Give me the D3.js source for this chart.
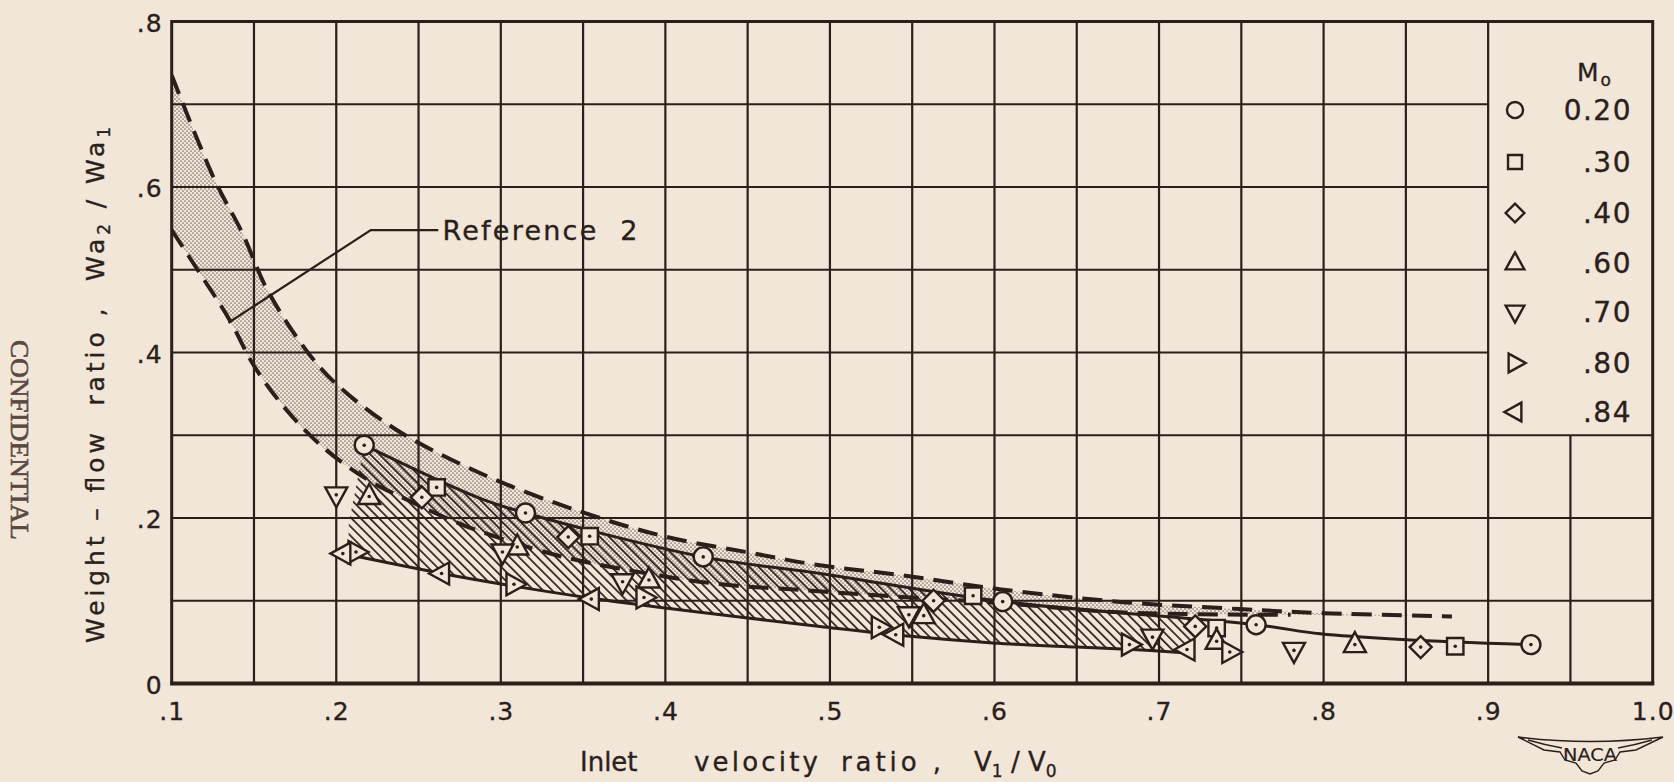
<!DOCTYPE html>
<html>
<head>
<meta charset="utf-8">
<script src="https://cdn.jsdelivr.net/npm/d3@7"></script>
<style>
  html, body { margin: 0; padding: 0; background: #f2e6d9; }
  svg { display: block; }
  text { fill: #2b1f1b; stroke: #2b1f1b; stroke-width: 0.35px; }
  .sans { font-family: "DejaVu Sans", "Noto Sans", sans-serif; }
  .stamp { font-family: "Liberation Serif", "DejaVu Serif", serif; }
</style>
</head>
<body>
<svg id="chart" width="1674" height="782"></svg>
<script>
// ---- axis ticks ----
const xTickValues = [0.1, 0.2, 0.3, 0.4, 0.5, 0.6, 0.7, 0.8, 0.9, 1.0];
const xTickLabels = [".1", ".2", ".3", ".4", ".5", ".6", ".7", ".8", ".9", "1.0"];
const yTickValues = [0, 0.2, 0.4, 0.6, 0.8];
const yTickLabels = ["0", ".2", ".4", ".6", ".8"];

// ---- free-stream Mach number series ----
const machNumbers = ["0.20", ".30", ".40", ".60", ".70", ".80", ".84"];
const machSymbols = ["circle", "square", "diamond", "up", "down", "right", "left"];

// [inlet velocity ratio V1/V0, weight-flow ratio Wa2/Wa1]
const mach020 = [[0.217, 0.288], [0.315, 0.206], [0.423, 0.153], [0.605, 0.099], [0.759, 0.071], [0.926, 0.047]];
const mach030 = [[0.261, 0.237], [0.354, 0.178], [0.587, 0.106], [0.735, 0.067], [0.880, 0.045]];
const mach040 = [[0.252, 0.225], [0.341, 0.177], [0.563, 0.100], [0.722, 0.069], [0.859, 0.044]];
const mach060 = [[0.220, 0.226], [0.310, 0.165], [0.390, 0.125], [0.557, 0.082], [0.735, 0.051], [0.819, 0.047]];
const mach070 = [[0.200, 0.228], [0.301, 0.159], [0.374, 0.123], [0.548, 0.083], [0.696, 0.056], [0.782, 0.040]];
const mach080 = [[0.212, 0.159], [0.308, 0.120], [0.387, 0.104], [0.530, 0.068], [0.682, 0.047], [0.743, 0.038]];
const mach084 = [[0.204, 0.157], [0.264, 0.133], [0.355, 0.102], [0.540, 0.059], [0.717, 0.041]];
const machSeries = [mach020, mach030, mach040, mach060, mach070, mach080, mach084];

// ---- Reference 2 band (dashed bounds) ----
const refUpper = [[0.100, 0.735], [0.126, 0.609], [0.143, 0.544], [0.158, 0.476], [0.182, 0.402],
                  [0.200, 0.362], [0.237, 0.306], [0.290, 0.252], [0.348, 0.208], [0.401, 0.177],
                  [0.449, 0.159], [0.490, 0.144], [0.543, 0.131], [0.603, 0.114], [0.680, 0.098],
                  [0.749, 0.090], [0.800, 0.085], [0.878, 0.081]];
const refLower = [[0.100, 0.548], [0.117, 0.496], [0.135, 0.440], [0.150, 0.384], [0.170, 0.330],
                  [0.194, 0.282], [0.221, 0.244], [0.241, 0.224], [0.279, 0.190], [0.334, 0.155],
                  [0.372, 0.139], [0.429, 0.121], [0.482, 0.113], [0.549, 0.104], [0.605, 0.097],
                  [0.676, 0.086], [0.780, 0.083]];

// ---- faired bounds of present data ----
const fairTop = [[0.217, 0.288], [0.287, 0.224], [0.315, 0.206], [0.423, 0.153], [0.494, 0.133],
                 [0.605, 0.099], [0.759, 0.071], [0.798, 0.060], [0.850, 0.053], [0.926, 0.047]];
const fairBottom = [[0.204, 0.157], [0.264, 0.133], [0.307, 0.118], [0.352, 0.104], [0.401, 0.091],
                    [0.494, 0.069], [0.549, 0.057], [0.599, 0.049], [0.650, 0.044], [0.684, 0.041],
                    [0.717, 0.037]];
const hatchSpan = [0.2075, 0.72];

// ---- Reference 2 callout ----
const calloutLeader = [[0.1345, 0.436], [0.221, 0.548], [0.262, 0.548]];
const calloutText = "Reference  2";

const INK = "#2b1f1b";
const PAPER = "#f2e6d9";

const svg = d3.select("#chart");
const x = d3.scaleLinear().domain([0.1, 1.0]).range([171.7, 1652.7]);
const y = d3.scaleLinear().domain([0, 0.8]).range([683.5, 21.5]);

const defs = svg.append("defs");
// stipple for the Reference 2 band
const dots = defs.append("pattern").attr("id", "stipple").attr("patternUnits", "userSpaceOnUse")
  .attr("width", 4).attr("height", 4);
dots.append("circle").attr("cx", 1).attr("cy", 1).attr("r", 0.85).attr("fill", INK);
dots.append("circle").attr("cx", 3).attr("cy", 3).attr("r", 0.85).attr("fill", INK);
// diagonal hatching for present data
const hatch = defs.append("pattern").attr("id", "hatch").attr("patternUnits", "userSpaceOnUse")
  .attr("width", 6.5).attr("height", 6.5).attr("patternTransform", "rotate(45)");
hatch.append("line").attr("x1", 0).attr("y1", 1).attr("x2", 6.5).attr("y2", 1)
  .attr("stroke", INK).attr("stroke-width", 1.7);

defs.append("clipPath").attr("id", "plotClip").append("rect")
  .attr("x", x(0.1)).attr("y", y(0.8)).attr("width", x(1.0) - x(0.1)).attr("height", y(0) - y(0.8));
defs.append("clipPath").attr("id", "hatchClip").append("rect")
  .attr("x", x(hatchSpan[0])).attr("y", y(0.8)).attr("width", x(hatchSpan[1]) - x(hatchSpan[0]))
  .attr("height", y(0) - y(0.8));

// ---- grid ----
const grid = svg.append("g").attr("stroke", INK).attr("stroke-width", 2.2).attr("fill", "none");
d3.range(0.15, 0.96, 0.05).forEach(v => {
  const top = v > 0.925 ? 0.3 : 0.8;
  grid.append("line").attr("x1", x(v)).attr("x2", x(v)).attr("y1", y(0)).attr("y2", y(top));
});
d3.range(0.1, 0.75, 0.1).forEach(v => {
  const right = v > 0.35 ? 0.9 : 1.0;
  grid.append("line").attr("x1", x(0.1)).attr("x2", x(right)).attr("y1", y(v)).attr("y2", y(v));
});
// frame
svg.append("rect").attr("x", x(0.1)).attr("y", y(0.8)).attr("width", x(1.0) - x(0.1))
  .attr("height", y(0) - y(0.8)).attr("fill", "none").attr("stroke", INK).attr("stroke-width", 3);
svg.append("line").attr("x1", x(0.1) - 1.5).attr("x2", x(1.0) + 1.5).attr("y1", y(0)).attr("y2", y(0))
  .attr("stroke", INK).attr("stroke-width", 4.2);

// ---- shaded bands ----
const curve = d3.line().x(d => x(d[0])).y(d => y(d[1])).curve(d3.curveCatmullRom.alpha(0.5));
function band(upper, lower) {
  const a = curve(upper);
  const b = curve(lower.slice().reverse());
  return a + "L" + b.slice(1) + "Z";
}
const shade = svg.append("g").attr("clip-path", "url(#plotClip)");
shade.append("path").attr("d", band(refUpper, refLower)).attr("fill", "url(#stipple)").attr("opacity", 0.6);
shade.append("g").attr("clip-path", "url(#hatchClip)")
  .append("path").attr("d", band(fairTop, fairBottom)).attr("fill", "url(#hatch)");

// ---- curves ----
const lines = svg.append("g").attr("clip-path", "url(#plotClip)").attr("fill", "none").attr("stroke", INK);
lines.append("path").attr("d", curve(refUpper)).attr("stroke-width", 4).attr("stroke-dasharray", "20 10");
lines.append("path").attr("d", curve(refLower)).attr("stroke-width", 4).attr("stroke-dasharray", "20 10");
lines.append("path").attr("d", curve(fairTop)).attr("stroke-width", 3);
lines.append("path").attr("d", curve(fairBottom)).attr("stroke-width", 3);

// ---- callout ----
svg.append("path").attr("d", d3.line().x(d => x(d[0])).y(d => y(d[1]))(calloutLeader))
  .attr("fill", "none").attr("stroke", INK).attr("stroke-width", 2.2);
svg.append("text").attr("class", "sans").attr("x", x(0.2645)).attr("y", y(calloutLeader[2][1]) + 10)
  .attr("font-size", 27).attr("textLength", 195).attr("lengthAdjust", "spacing")
  .style("white-space", "pre").text(calloutText);

// ---- markers ----
function symbolPath(kind, s) {
  const r = 9.5 * s, q = 8.2 * s, d = 11 * s, a = 12.5 * s, b = 11 * s, c = 7.5 * s;
  switch (kind) {
    case "circle": return `M${-r},0A${r},${r} 0 1,0 ${r},0A${r},${r} 0 1,0 ${-r},0Z`;
    case "square": return `M${-q},${-q}H${q}V${q}H${-q}Z`;
    case "diamond": return `M0,${-d}L${d},0L0,${d}L${-d},0Z`;
    case "up": return `M0,${-a}L${b},${c}L${-b},${c}Z`;
    case "down": return `M0,${a}L${b},${-c}L${-b},${-c}Z`;
    case "right": return `M${a},0L${-c},${-b}L${-c},${b}Z`;
    case "left": return `M${-a},0L${c},${-b}L${c},${b}Z`;
  }
}
machSeries.forEach((series, i) => {
  const g = svg.append("g");
  const m = g.selectAll("g").data(series).join("g")
    .attr("transform", d => `translate(${x(d[0])},${y(d[1])})`);
  m.append("path").attr("d", symbolPath(machSymbols[i], 1))
    .attr("fill", PAPER).attr("stroke", INK).attr("stroke-width", 2.4);
  m.append("circle").attr("r", 1.8).attr("fill", INK);
});

// ---- axes (labels only; the grid carries the ticks) ----
const xAxis = svg.append("g").attr("transform", `translate(0,${y(0)})`)
  .call(d3.axisBottom(x).tickValues(xTickValues).tickFormat((d, i) => xTickLabels[i]).tickSize(0).tickPadding(19));
const yAxis = svg.append("g").attr("transform", `translate(${x(0.1)},0)`)
  .call(d3.axisLeft(y).tickValues(yTickValues).tickFormat((d, i) => yTickLabels[i]).tickSize(0).tickPadding(9));
[xAxis, yAxis].forEach(a => {
  a.select(".domain").remove();
  a.selectAll("text").attr("class", "sans").attr("font-size", 25)
    .attr("fill", INK).style("letter-spacing", "1px");
});
yAxis.selectAll("text").attr("dy", "0.38em");

// ---- axis titles ----
const xt = svg.append("g").attr("class", "sans").attr("font-size", 26);
xt.append("text").attr("x", 580).attr("y", 771).text("Inlet");
[["velocity", 694, 124], ["ratio ,", 841, 100]].forEach(([t, px, w]) => {
  xt.append("text").attr("x", px).attr("y", 771).attr("textLength", w).attr("lengthAdjust", "spacing")
    .style("white-space", "pre").text(t);
});
const v = xt.append("text").attr("x", 974).attr("y", 771).style("white-space", "pre");
v.append("tspan").text("V");
v.append("tspan").attr("font-size", 17).attr("dy", 6).text("1");
v.append("tspan").attr("dy", -6).text(" / V");
v.append("tspan").attr("font-size", 17).attr("dy", 6).text("0");

const yt = svg.append("text").attr("class", "sans").attr("transform", "translate(104,385) rotate(-90)")
  .attr("text-anchor", "middle").attr("font-size", 25).style("white-space", "pre")
  .attr("textLength", 516).attr("lengthAdjust", "spacing");
yt.append("tspan").text("Weight – flow  ratio ,  Wa");
yt.append("tspan").attr("font-size", 17).attr("dy", 6).text("2");
yt.append("tspan").attr("dy", -6).text(" / Wa");
yt.append("tspan").attr("font-size", 17).attr("dy", 6).text("1");

// ---- side stamp ----
svg.append("text").attr("class", "stamp").attr("transform", "translate(11,440) rotate(90)")
  .attr("text-anchor", "middle").attr("font-size", 26).attr("textLength", 200)
  .attr("lengthAdjust", "spacingAndGlyphs").style("fill", "#5a4943").style("stroke", "#5a4943")
  .style("stroke-width", "0.6px").text("CONFIDENTIAL");

// ---- legend ----
const legend = svg.append("g").attr("class", "sans");
const head = legend.append("text").attr("x", 1577).attr("y", 81).attr("font-size", 25);
head.append("tspan").text("M");
head.append("tspan").attr("font-size", 17).attr("dy", 5).attr("dx", 2).text("o");
const rowY = [110, 162, 213, 263, 312, 363, 412];
machNumbers.forEach((label, i) => {
  legend.append("path").attr("transform", `translate(1515,${rowY[i]})`)
    .attr("d", symbolPath(machSymbols[i], 0.85)).attr("fill", "none").attr("stroke", INK).attr("stroke-width", 2.4);
  legend.append("text").attr("x", 1632).attr("y", rowY[i] + 10).attr("text-anchor", "end")
    .attr("font-size", 28).style("letter-spacing", "1.5px").text(label);
});

// ---- NACA wings mark ----
const naca = svg.append("g").attr("fill", PAPER).attr("stroke", INK).attr("stroke-width", 1.4);
naca.append("path").attr("d",
  "M1518,737 Q1590,746 1663,737 L1636,750 L1620,752 L1615,760 L1604,763 L1598,771 L1590,774 " +
  "L1582,771 L1576,763 L1565,760 L1560,752 L1544,750 Z");
naca.append("path").attr("fill", "none").attr("d", "M1528,740 Q1545,745 1562,748 M1652,740 Q1635,745 1618,748");
svg.append("text").attr("class", "sans").attr("x", 1590).attr("y", 761).attr("text-anchor", "middle")
  .attr("font-size", 17).attr("textLength", 54).attr("lengthAdjust", "spacingAndGlyphs")
  .style("stroke-width", "0.2px").text("NACA");
</script>
</body>
</html>
